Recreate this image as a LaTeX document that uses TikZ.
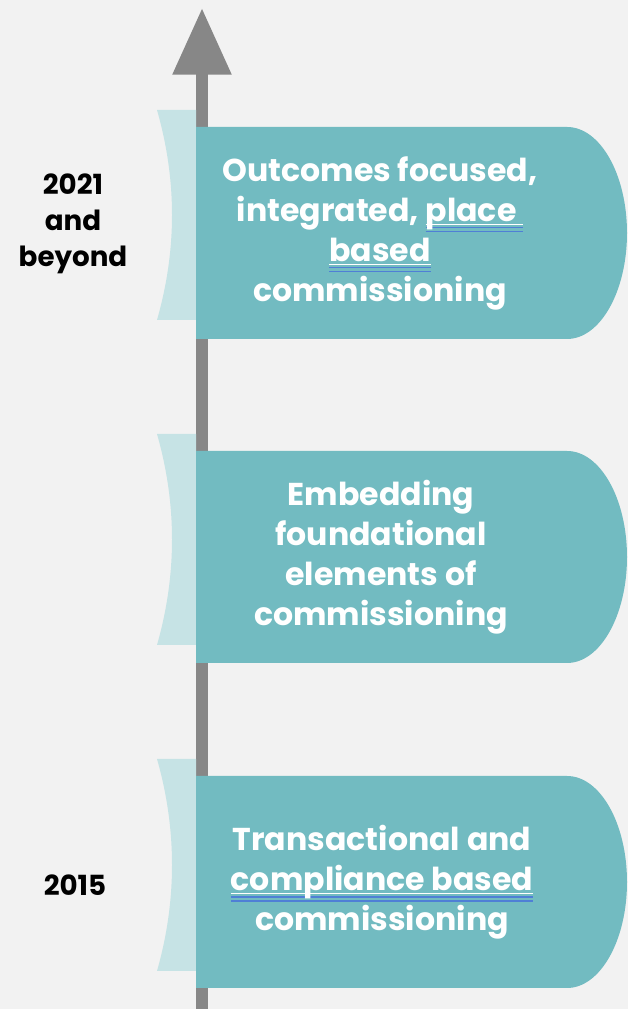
\documentclass[tikz,border=0pt]{standalone}
\usepackage{fontspec}
\setmainfont{Poppins}
\usepackage{xcolor}
\usepackage{tikz}
\usetikzlibrary{arrows.meta}
\definecolor{pagebg}{HTML}{F2F2F2}
\definecolor{stageteal}{HTML}{72BBC1}
\definecolor{tabteal}{HTML}{C6E3E5}
\definecolor{axisgray}{HTML}{878787}
\definecolor{markblue}{HTML}{4F7FD6}
% white underline with the blue double mark under it
\newcommand\spellmark[1]{\setbox0=\hbox{#1}%
  \rlap{\color{white}\rule[-3pt]{\wd0}{0.9pt}}%
  \rlap{\color{markblue}\rule[-5.6pt]{\wd0}{1.2pt}}%
  \rlap{\color{markblue}\rule[-8.4pt]{\wd0}{1.2pt}}\box0}
\tikzset{
  axis/.style={draw=axisgray, line width=9pt, -{Triangle[width=42pt,length=50pt]}},
  stagebox/.style={fill=stageteal},
  stagetab/.style={fill=tabteal},
  stagetext/.style={text=white, font=\bfseries\fontsize{23.7}{30}\selectfont, align=center, inner sep=0pt},
  yeartext/.style={text=black, font=\bfseries\fontsize{20.8}{27}\selectfont, align=center, inner sep=0pt},
}
\begin{document}
\begin{tikzpicture}[x=0.75pt,y=0.75pt]
  \fill[pagebg] (0,0) rectangle (628,1009);
  \useasboundingbox (0,0) rectangle (628,1009);

  % timeline axis
  \coordinate (axisfoot) at (202,0);
  \coordinate (axistip) at (202,1001);
  \draw[axis] (axisfoot) -- (axistip);

  % tabs on the left of each stage
  \fill[stagetab] (196,38) -- (157,38) .. controls (177,108) and (177,180) .. (157,250) -- (196,250) -- cycle;
  \fill[stagetab] (196,364) -- (157,364) .. controls (177,434) and (177,505) .. (157,575) -- (196,575) -- cycle;
  \fill[stagetab] (196,689) -- (157,689) .. controls (177,759) and (177,829) .. (157,899) -- (196,899) -- cycle;

  % stage boxes, round on the right
  \fill[stagebox] (196,21) -- (196,233) -- (567,233) arc[start angle=90, end angle=-90, x radius=45pt, y radius=79.5pt] -- cycle;
  \fill[stagebox] (196,346) -- (196,558) -- (567,558) arc[start angle=90, end angle=-90, x radius=45pt, y radius=79.5pt] -- cycle;
  \fill[stagebox] (196,670) -- (196,882) -- (567,882) arc[start angle=90, end angle=-90, x radius=45pt, y radius=79.5pt] -- cycle;

  % stage texts
  \node[stagetext] (stage1) at (380,776) {Outcomes focused,\\integrated, \spellmark{place\ }\\\spellmark{based}\\commissioning};
  \node[stagetext] (stage2) at (381,452) {Embedding\\foundational\\elements of\\commissioning};
  \node[stagetext] (stage3) at (382,127) {Transactional and\\\spellmark{compliance based}\\commissioning};

  % years
  \node[yeartext] (yearlate) at (73,785) {2021\\and\\beyond};
  \node[yeartext] (yearearly) at (75,124) {2015};
\end{tikzpicture}
\end{document}
